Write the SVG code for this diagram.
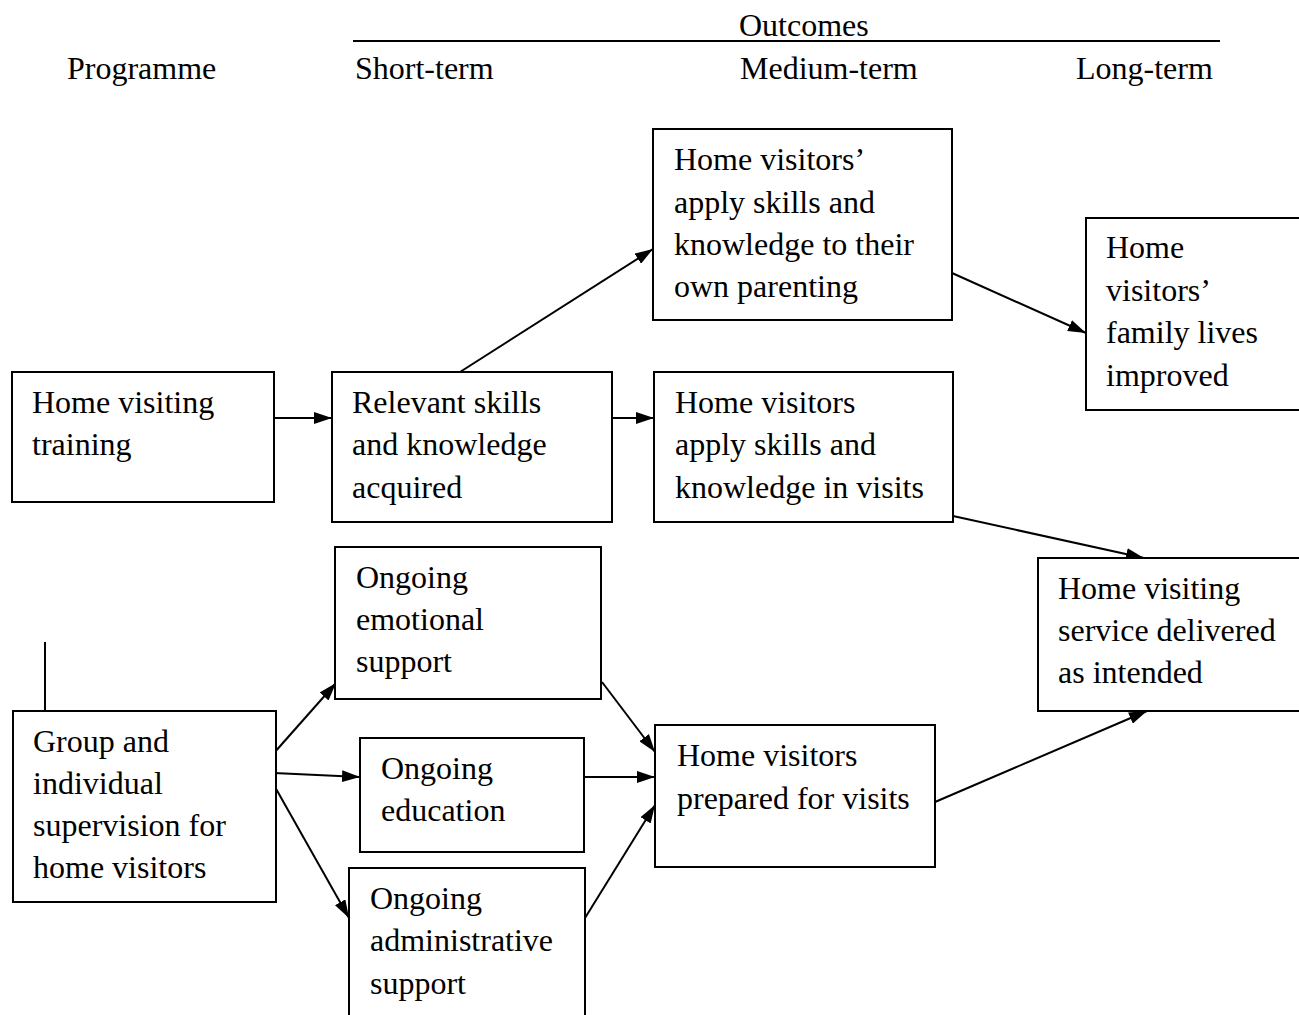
<svg xmlns="http://www.w3.org/2000/svg" width="1299" height="1015" viewBox="0 0 1299 1015">
<style>
text{font-family:"Liberation Serif","Times New Roman",serif;font-size:32px;fill:#000}
.box{fill:#fff;stroke:#000;stroke-width:2}
.c{stroke:#000;stroke-width:2;fill:none;marker-end:url(#ah)}
.ln{stroke:#000;stroke-width:2;fill:none}
</style>
<defs>
<marker id="ah" viewBox="0 0 18 12" refX="18" refY="6" markerWidth="18" markerHeight="12" markerUnits="userSpaceOnUse" orient="auto">
<path d="M0,0 L18,6 L0,12 Z" fill="#000"/>
</marker>
</defs>
<rect width="1299" height="1015" fill="#fff"/>
<g id="headers">
<text x="739" y="36">Outcomes</text>
<line class="ln" x1="353" y1="41" x2="1220" y2="41"/>
<text x="67" y="79">Programme</text>
<text x="355" y="79">Short-term</text>
<text x="740" y="79">Medium-term</text>
<text x="1076" y="79">Long-term</text>
</g>
<g id="connectors">
<line class="c" x1="274" y1="418" x2="332" y2="418"/>
<line class="c" x1="612" y1="418" x2="654" y2="418"/>
<line class="c" x1="460" y1="372" x2="653" y2="249"/>
<line class="c" x1="952" y1="273" x2="1086" y2="333"/>
<line class="c" x1="953" y1="516" x2="1144" y2="558"/>
<line class="c" x1="935" y1="802" x2="1147" y2="711"/>
<line class="c" x1="274" y1="753" x2="336" y2="683"/>
<line class="c" x1="274" y1="773" x2="360" y2="777"/>
<line class="c" x1="275" y1="787" x2="349" y2="918"/>
<line class="c" x1="602" y1="682" x2="655" y2="752"/>
<line class="c" x1="585" y1="777" x2="655" y2="777"/>
<line class="c" x1="585" y1="918" x2="655" y2="805"/>
<line class="ln" x1="45" y1="642" x2="45" y2="711"/>
</g>
<g id="n-training">
<rect class="box" x="12" y="372" width="262" height="130"/>
<text x="32" y="413">Home visiting</text>
<text x="32" y="455">training</text>
</g>
<g id="n-acquired">
<rect class="box" x="332" y="372" width="280" height="150"/>
<text x="352" y="413">Relevant skills</text>
<text x="352" y="455">and knowledge</text>
<text x="352" y="498">acquired</text>
</g>
<g id="n-parenting">
<rect class="box" x="653" y="129" width="299" height="191"/>
<text x="674" y="170">Home visitors’</text>
<text x="674" y="213">apply skills and</text>
<text x="674" y="255">knowledge to their</text>
<text x="674" y="297">own parenting</text>
</g>
<g id="n-visits">
<rect class="box" x="654" y="372" width="299" height="150"/>
<text x="675" y="413">Home visitors</text>
<text x="675" y="455">apply skills and</text>
<text x="675" y="498">knowledge in visits</text>
</g>
<g id="n-family">
<rect class="box" x="1086" y="218" width="222" height="192"/>
<text x="1106" y="258">Home</text>
<text x="1106" y="301">visitors’</text>
<text x="1106" y="343">family lives</text>
<text x="1106" y="386">improved</text>
</g>
<g id="n-service">
<rect class="box" x="1038" y="558" width="270" height="153"/>
<text x="1058" y="599">Home visiting</text>
<text x="1058" y="641">service delivered</text>
<text x="1058" y="683">as intended</text>
</g>
<g id="n-emotional">
<rect class="box" x="335" y="547" width="266" height="152"/>
<text x="356" y="588">Ongoing</text>
<text x="356" y="630">emotional</text>
<text x="356" y="672">support</text>
</g>
<g id="n-supervision">
<rect class="box" x="13" y="711" width="263" height="191"/>
<text x="33" y="752">Group and</text>
<text x="33" y="794">individual</text>
<text x="33" y="836">supervision for</text>
<text x="33" y="878">home visitors</text>
</g>
<g id="n-education">
<rect class="box" x="360" y="738" width="224" height="114"/>
<text x="381" y="779">Ongoing</text>
<text x="381" y="821">education</text>
</g>
<g id="n-admin">
<rect class="box" x="349" y="868" width="236" height="160"/>
<text x="370" y="909">Ongoing</text>
<text x="370" y="951">administrative</text>
<text x="370" y="994">support</text>
</g>
<g id="n-prepared">
<rect class="box" x="655" y="725" width="280" height="142"/>
<text x="677" y="766">Home visitors</text>
<text x="677" y="809">prepared for visits</text>
</g>
</svg>
